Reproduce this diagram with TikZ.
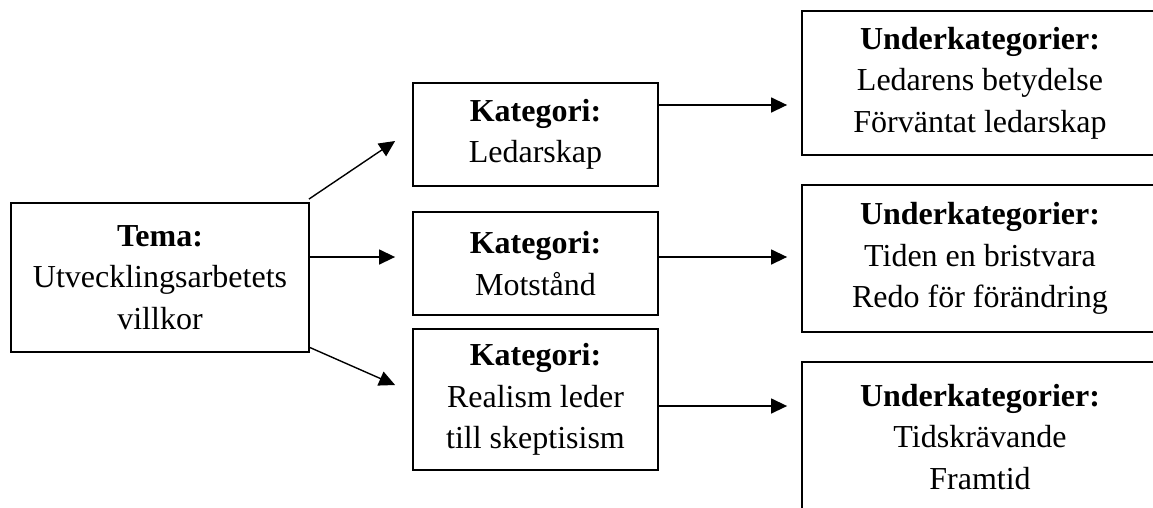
\documentclass[tikz,border=0pt]{standalone}
\usepackage{fontspec}
\setmainfont{Liberation Serif}
\usetikzlibrary{arrows.meta}
\begin{document}
\begin{tikzpicture}[x=1pt,y=-1pt,
  box/.style={draw, line width=1.8pt, align=center, font=\fontsize{32}{41.5}\selectfont, inner sep=0pt},
  conn/.style={line width=1.4pt, -{Triangle[length=16pt,width=15pt]}}]
\useasboundingbox (0,0) rectangle (1153,507);
\clip (0,0) rectangle (1153,507);
\node[box, minimum width=298pt, minimum height=149pt] (tema) at (160,277.5) {\textbf{Tema:}\\Utvecklingsarbetets\\villkor};
\node[box, minimum width=245pt, minimum height=103pt] (k1) at (535.5,134.5) {\textbf{Kategori:}\\Ledarskap};
\node[box, minimum width=245pt, minimum height=103pt] (k2) at (535.5,263.5) {\textbf{Kategori:}\\Motstånd};
\node[box, minimum width=245pt, minimum height=141pt] (k3) at (535.5,399.5) {\textbf{Kategori:}\\Realism leder\\till skeptisism};
\node[box, minimum width=356pt, minimum height=144pt] (u1) at (980,83) {\textbf{Underkategorier:}\\Ledarens betydelse\\Förväntat ledarskap};
\node[box, minimum width=356pt, minimum height=147pt] (u2) at (980,258.5) {\textbf{Underkategorier:}\\Tiden en bristvara\\Redo för förändring};
\node[box, minimum width=356pt, minimum height=150pt] (u3) at (980,437) {\textbf{Underkategorier:}\\Tidskrävande\\Framtid};
% arrows from Tema
\draw[conn] ([xshift=-1pt,yshift=3pt]tema.north east) -- ([xshift=-17pt,yshift=-6.5pt]k1.west);
\draw[conn, shorten >=17pt] ([yshift=20.5pt]tema.east) -- ([yshift=20.5pt]tema.east -| k2.west);
\draw[conn] ([yshift=-70pt]tema.east) -- ([xshift=-17pt,yshift=14.5pt]k3.west);
% arrows from categories
\draw[conn, shorten >=14pt] ([yshift=29.5pt]k1.east) -- ([yshift=29.5pt]k1.east -| u1.west);
\draw[conn, shorten >=14pt] ([yshift=6.5pt]k2.east) -- ([yshift=6.5pt]k2.east -| u2.west);
\draw[conn, shorten >=14pt] ([yshift=-6.5pt]k3.east) -- ([yshift=-6.5pt]k3.east -| u3.west);
\end{tikzpicture}
\end{document}
